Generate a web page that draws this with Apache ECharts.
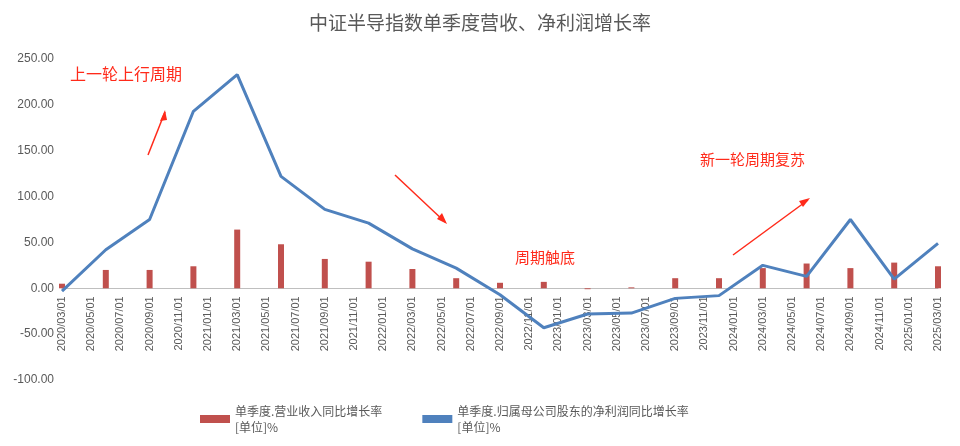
<!DOCTYPE html>
<html><head><meta charset="utf-8">
<script src="https://cdn.jsdelivr.net/npm/echarts@6/dist/echarts.min.js"></script>
<style>html,body{margin:0;background:#fff}#c{width:960px;height:446px}</style>
</head><body><div id="c"></div>
<script>
// quarterly data, placed on a monthly axis
const quarters = ['2020/03','2020/06','2020/09','2020/12','2021/03','2021/06','2021/09','2021/12',
  '2022/03','2022/06','2022/09','2022/12','2023/03','2023/06','2023/09','2023/12',
  '2024/03','2024/06','2024/09','2024/12','2025/03'];
const revenueGrowth = [5, 20, 20, 24, 64, 48, 32, 29, 21, 11, 6, 7, -1, 1, 11, 11, 22, 27, 22, 28, 24];
const profitGrowth = [-3, 42, 75, 193, 233, 122, 86, 71, 43, 22, -7, -43, -28, -27, -11, -8, 25, 13, 75, 10, 49];

const months = [];
for (let y = 2020, m = 3; ; m++) {
  if (m > 12) { m = 1; y++; }
  if (y === 2025 && m > 3) break;
  months.push(y + '/' + String(m).padStart(2, '0'));
}
const barData = months.map(m => { const i = quarters.indexOf(m); return i < 0 ? null : revenueGrowth[i]; });
const lineData = months.map(m => { const i = quarters.indexOf(m); return i < 0 ? null : profitGrowth[i]; });

const gridTop = 59, gridBottom = 66, H = 446;
const plotH = H - gridTop - gridBottom;
const zeroOffset = plotH * 100 / 350; // distance from bottom of grid to the zero line

const chart = echarts.init(document.getElementById('c'));
const red = '#ff2a1a';
chart.setOption({
  title: { text: '中证半导指数单季度营收、净利润增长率', left: 'center', top: 8,
    textStyle: { fontSize: 19, fontWeight: 'normal', color: '#595959', fontFamily: 'Noto Sans CJK SC' } },
  grid: { left: 62, right: 22, top: gridTop, bottom: gridBottom },
  legend: { bottom: 6, left: 195, itemGap: 40, itemWidth: 30, itemHeight: 8,
    textStyle: { color: '#595959', fontSize: 12, lineHeight: 16, fontFamily: 'Noto Sans CJK SC' },
    data: [{ name: '单季度.营业收入同比增长率\n[单位]%', icon: 'rect' }, { name: '单季度.归属母公司股东的净利润同比增长率\n[单位]%', icon: 'rect' }] },
  xAxis: { type: 'category', data: months, boundaryGap: false, offset: -zeroOffset,
    axisLine: { onZero: false, lineStyle: { color: '#bfbfbf' } }, axisTick: { show: false },
    axisLabel: { interval: 1, rotate: 90, color: '#595959', fontSize: 11, formatter: v => v + '/01' } },
  yAxis: { type: 'value', min: -100, max: 250, interval: 50, splitLine: { show: false },
    axisLabel: { color: '#595959', fontSize: 12, formatter: v => v.toFixed(2) } },
  series: [
    { name: '单季度.营业收入同比增长率\n[单位]%', type: 'bar', data: barData, barWidth: 6, barGap: '-100%',
      itemStyle: { color: '#c0504d' } },
    { name: '单季度.归属母公司股东的净利润同比增长率\n[单位]%', type: 'line', data: lineData, connectNulls: true,
      symbol: 'none', lineStyle: { width: 3, color: '#4f81bd' }, itemStyle: { color: '#4f81bd' } }
  ],
  graphic: [
    { type: 'text', left: 70, top: 66, style: { text: '上一轮上行周期', fill: red, fontSize: 16, fontFamily: 'Noto Sans CJK SC' } },
    { type: 'text', left: 515, top: 250, style: { text: '周期触底', fill: red, fontSize: 15, fontFamily: 'Noto Sans CJK SC' } },
    { type: 'text', left: 700, top: 152, style: { text: '新一轮周期复苏', fill: red, fontSize: 15, fontFamily: 'Noto Sans CJK SC' } },
    { type: 'line', shape: { x1: 148, y1: 155, x2: 165, y2: 112 }, style: { stroke: red, lineWidth: 1.5 } },
    { type: 'polygon', shape: { points: [[165, 110], [160, 121], [167, 120]] }, style: { fill: red } },
    { type: 'line', shape: { x1: 395, y1: 175, x2: 445, y2: 222 }, style: { stroke: red, lineWidth: 1.5 } },
    { type: 'polygon', shape: { points: [[447, 224], [437, 219], [442, 213]] }, style: { fill: red } },
    { type: 'line', shape: { x1: 733, y1: 255, x2: 808, y2: 200 }, style: { stroke: red, lineWidth: 1.5 } },
    { type: 'polygon', shape: { points: [[810, 198], [799, 201], [803, 207]] }, style: { fill: red } }
  ]
});
</script></body></html>
